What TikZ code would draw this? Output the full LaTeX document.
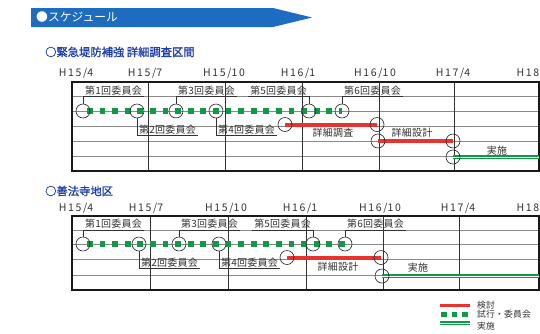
\documentclass[tikz,border=0pt]{standalone}
\usepackage{fontspec}
\setmainfont{Noto Sans CJK JP}
\newfontfamily\labfont[LetterSpace=2]{Noto Sans CJK JP}
\newfontfamily\hdrfont[LetterSpace=16]{Noto Sans CJK JP}
\newfontfamily\ttlfont[FakeBold=1.2]{Noto Sans CJK JP}
\usetikzlibrary{calc}
\definecolor{bannerblue}{HTML}{1E6CC0}
\definecolor{titleblue}{HTML}{1F3FA8}
\definecolor{bargreen}{HTML}{119A46}
\definecolor{barred}{HTML}{E8322E}
\definecolor{rowgray}{HTML}{8A8A8A}
\definecolor{inkgray}{HTML}{333333}
\tikzset{
  rowline/.style={draw=rowgray, line width=0.7pt},
  colline/.style={draw=inkgray, line width=0.9pt},
  frame/.style={draw=black!90, line width=1.8pt},
  trialbar/.style={draw=bargreen, line width=5.8pt, dash pattern=on 5.8pt off 6.8pt},
  studybar/.style={draw=barred, line width=4pt},
  implbar/.style={draw=bargreen, line width=2.1pt, double=white, double distance=0.7pt},
  circ/.style={circle, draw=black!85, line width=0.6pt, minimum size=14pt, inner sep=0pt},
  lab/.style={font=\labfont\fontsize{10}{11}\selectfont, text=inkgray, inner xsep=2pt, inner ysep=1pt},
  hdr/.style={font=\hdrfont\fontsize{10.5}{12}\selectfont, text=inkgray, inner sep=0pt},
  ttl/.style={font=\ttlfont\fontsize{11.3}{13}\selectfont, text=titleblue, anchor=west, inner sep=0pt},
  leader/.style={draw=inkgray, line width=0.6pt},
  legtext/.style={font=\labfont\fontsize{8.8}{10}\selectfont, text=inkgray, anchor=west, inner sep=0pt},
}
\begin{document}
\begin{tikzpicture}[x=1pt,y=-1pt]
\useasboundingbox (0,0) rectangle (540,333);
\fill[white] (0,0) rectangle (540,333);
% banner
\fill[bannerblue] (31,8) -- (273,8) -- (312,17.5) -- (273,27) -- (31,27) -- cycle;
\node[anchor=west, text=white, font=\fontsize{11.8}{13}\selectfont, inner sep=0pt] (banner) at (36,17.5) {●スケジュール};
% ---------------- section 1 ----------------
\node[ttl] (t1) at (45,52) {○緊急堤防補強 詳細調査区間};
\foreach \x/\t/\n in {76/H15\slash 4/a, 145/H15\slash 7/b, 224/H15\slash 10/c, 298/H16\slash 1/d, 375/H16\slash 10/e, 453/H17\slash 4/f}
  \node[hdr] (h1\n) at (\x,73) {\t};
\node[hdr, anchor=east] (h1g) at (539.5,73) {H18};
\foreach \y in {96.5,111,126,141,156} \draw[rowline] (72,\y) -- (539,\y);
\foreach \x in {148,225,302,379,454} \draw[colline] (\x,82) -- (\x,171);
\draw[frame] (72,82) rectangle (539,171);
% bar coordinates
\coordinate (p1) at (83,111);
\coordinate (p2) at (137,111);
\coordinate (p3) at (176,111);
\coordinate (p4) at (216,111);
\coordinate (p5) at (309,111);
\coordinate (p6) at (342,111);
\coordinate (rs1) at (285,124.5);
\coordinate (re1) at (377,124.5);
\coordinate (rs2) at (378,141);
\coordinate (re2) at (453,141);
\coordinate (gs1) at (453,157);
\coordinate (ge1) at (539,157);
\draw[trialbar] ($(p1)+(4,0)$) -- (p6);
\draw[studybar] (rs1) -- (re1);
\draw[studybar] (rs2) -- (re2);
\draw[implbar] (gs1) -- (ge1);
\foreach \n in {p1,p2,p3,p4,p5,p6,rs1,re1,rs2,re2,gs1} \node[circ] (c\n) at (\n) {};
% labels
\node[lab, anchor=south west] (l1) at (83,96.5) {第1回委員会};
\draw[leader] (cp1.north) |- (l1.south east);
\node[lab, anchor=south west] (l3) at (176,96.5) {第3回委員会};
\draw[leader] (cp3.north) |- (l3.south east);
\node[lab, anchor=south east] (l5) at (309,96.5) {第5回委員会};
\draw[leader] (cp5.north) |- (l5.south west);
\node[lab, anchor=south west] (l6) at (342,96.5) {第6回委員会};
\draw[leader] (cp6.north) |- (l6.south east);
\node[lab, anchor=south west] (l2) at (137,135.5) {第2回委員会};
\draw[leader] (cp2.south) |- (l2.south east);
\node[lab, anchor=south west] (l4) at (216,135.5) {第4回委員会};
\draw[leader] (cp4.south) |- (l4.south east);
\node[lab] (s1) at (333,133) {詳細調査};
\node[lab] (s2) at (412,133) {詳細設計};
\node[lab] (s3) at (497,150.5) {実施};
% ---------------- section 2 ----------------
\node[ttl] (t2) at (45,191) {○善法寺地区};
\foreach \x/\t/\n in {76/H15\slash 4/a, 146/H15\slash 7/b, 226/H15\slash 10/c, 300/H16\slash 1/d, 380/H16\slash 10/e, 458/H17\slash 4/f}
  \node[hdr] (h2\n) at (\x,208) {\t};
\node[hdr, anchor=east] (h2g) at (539.5,208) {H18};
\foreach \y in {230,244,259,275} \draw[rowline] (72,\y) -- (539,\y);
\foreach \x in {150,228,306,383,459} \draw[colline] (\x,216) -- (\x,290);
\draw[frame] (72,216) rectangle (539,290);
\coordinate (q1) at (83,244);
\coordinate (q2) at (139,244);
\coordinate (q3) at (179,244);
\coordinate (q4) at (219,244);
\coordinate (q5) at (313,244);
\coordinate (q6) at (345,244);
\coordinate (rs3) at (287,257.5);
\coordinate (re3) at (381,257.5);
\coordinate (gs2) at (382,276);
\coordinate (ge2) at (539,276);
\draw[trialbar] ($(q1)+(4,0)$) -- (q6);
\draw[studybar] (rs3) -- (re3);
\draw[implbar] (gs2) -- (ge2);
\foreach \n in {q1,q2,q3,q4,q5,q6,rs3,re3,gs2} \node[circ] (c\n) at (\n) {};
\node[lab, anchor=south west] (m1) at (83,230) {第1回委員会};
\draw[leader] (cq1.north) |- (m1.south east);
\node[lab, anchor=south west] (m3) at (179,230) {第3回委員会};
\draw[leader] (cq3.north) |- (m3.south east);
\node[lab, anchor=south east] (m5) at (313,230) {第5回委員会};
\draw[leader] (cq5.north) |- (m5.south west);
\node[lab, anchor=south west] (m6) at (345,230) {第6回委員会};
\draw[leader] (cq6.north) |- (m6.south east);
\node[lab, anchor=south west] (m2) at (139,268.5) {第2回委員会};
\draw[leader] (cq2.south) |- (m2.south east);
\node[lab, anchor=south west] (m4) at (219,268.5) {第4回委員会};
\draw[leader] (cq4.south) |- (m4.south east);
\node[lab] (u1) at (338,267) {詳細設計};
\node[lab] (u2) at (418,267.5) {実施};
% ---------------- legend ----------------
\coordinate (k1a) at (440,305); \coordinate (k1b) at (470,305);
\coordinate (k2a) at (441,314); \coordinate (k2b) at (470,314);
\coordinate (k3a) at (440,323); \coordinate (k3b) at (470,323);
\draw[studybar, line width=3pt] (k1a) -- (k1b);
\draw[trialbar, line width=5pt, dash pattern=on 5.5pt off 5pt] (k2a) -- (k2b);
\draw[implbar, line width=1.3pt] (k3a) -- (k3b);
\node[legtext] (g1) at (477,305) {検討};
\node[legtext] (g2) at (477,314) {試行・委員会};
\node[legtext] (g3) at (477,326) {実施};
\end{tikzpicture}
\end{document}
